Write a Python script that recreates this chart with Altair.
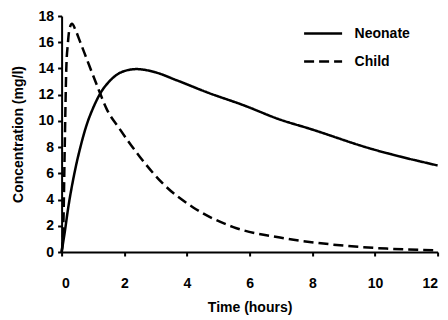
import altair as alt
import pandas as pd

# Neonate concentration (mg/l) vs time (hours)
neonate_t = [0, 0.1, 0.2, 0.4, 0.6, 0.8, 1.0, 1.2, 1.6, 2.0, 2.4, 3.0, 3.67, 4.73, 5.8, 6.97, 7.92, 9.84, 12]
neonate_c = [0, 1.5, 3.2, 5.9, 8.0, 9.7, 10.95, 11.95, 13.2, 13.8, 13.95, 13.7, 13.1, 12.1, 11.2, 10.1, 9.4, 7.9, 6.6]

# Child concentration (mg/l) vs time (hours)
child_t = [0, 0.05, 0.1, 0.15, 0.2, 0.25, 0.33, 0.45, 0.58, 0.87, 1.18, 1.44, 1.85, 2.5, 3.24, 4.2, 5.48, 6.97, 8.56, 10.37, 12]
child_c = [0, 1.5, 8, 14, 15.9, 17.0, 17.4, 16.9, 16.1, 14.3, 12.4, 10.9, 9.4, 7.25, 5.2, 3.4, 1.9, 1.1, 0.59, 0.26, 0.13]

series = ["Neonate", "Child"]
x_ticks = [0, 2, 4, 6, 8, 10, 12]
y_ticks = [0, 2, 4, 6, 8, 10, 12, 14, 16, 18]

df = pd.concat([
    pd.DataFrame({"t": neonate_t, "c": neonate_c, "group": series[0]}),
    pd.DataFrame({"t": child_t, "c": child_c, "group": series[1]}),
])

FONT = "Liberation Sans"

chart = alt.Chart(df).mark_line(
    color="black", strokeWidth=2.5, interpolate="monotone", strokeCap="butt"
).encode(
    x=alt.X("t:Q", title="Time (hours)",
            scale=alt.Scale(domain=[0, 12], nice=False, zero=False),
            axis=alt.Axis(values=x_ticks, labelPadding=20, titlePadding=10)),
    y=alt.Y("c:Q", title="Concentration (mg/l)",
            scale=alt.Scale(domain=[0, 18], nice=False),
            axis=alt.Axis(values=y_ticks, labelPadding=4, titlePadding=13)),
    strokeDash=alt.StrokeDash(
        "group:N",
        scale=alt.Scale(domain=series, range=[[1, 0], [10, 5]]),
        legend=alt.Legend(
            title=None, orient="none", legendX=241, legendY=-3,
            symbolType="stroke", symbolSize=1444, symbolStrokeWidth=2.5,
            symbolStrokeColor="black", labelFont=FONT, labelFontSize=14,
            labelFontWeight="bold", labelColor="black", labelOffset=11,
            rowPadding=-4,
        ),
    ),
    order="t:Q",
).properties(
    width=376, height=236,
    padding={"left": 61.6, "top": 16, "right": 10.4, "bottom": 68},
    autosize=alt.AutoSizeParams(type="none"),
).configure_view(
    stroke=None
).configure_axis(
    grid=False, domainColor="black", domainWidth=2, tickColor="black",
    tickWidth=2, tickSize=4, labelFont=FONT, labelFontSize=14,
    labelFontWeight="bold", labelColor="black", titleFont=FONT,
    titleFontSize=14, titleFontWeight="bold", titleColor="black",
)

chart.save("out.html", embed_options={"renderer": "svg", "actions": False})
